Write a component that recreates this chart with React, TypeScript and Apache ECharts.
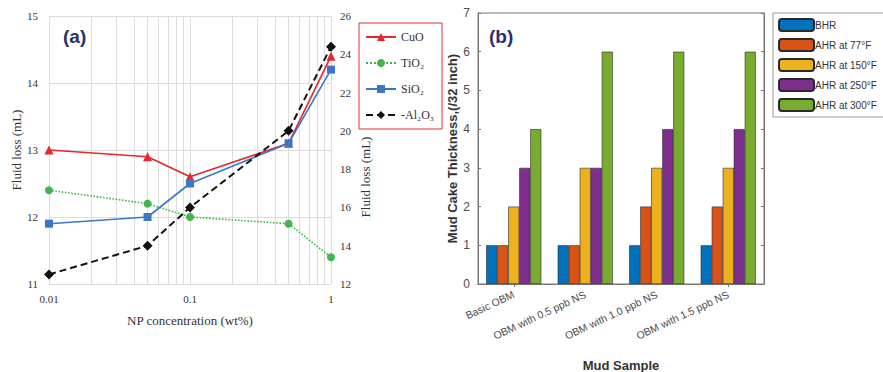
import React, { useEffect, useRef } from "react";
import * as echarts from "echarts";

// ---- Panel (a) data ----
const concentrations = [0.01, 0.05, 0.1, 0.5, 1];
const cuo = [13.0, 12.9, 12.6, 13.1, 14.4];
const tio2 = [12.4, 12.2, 12.0, 11.9, 11.4];
const sio2 = [11.9, 12.0, 12.5, 13.1, 14.2];
const al2o3 = [12.5, 14.0, 16.0, 20.0, 24.4];
const minorGridX = [0.02, 0.03, 0.04, 0.05, 0.06, 0.07, 0.08, 0.09, 0.2, 0.3, 0.4, 0.5, 0.6, 0.7, 0.8, 0.9];

// ---- Panel (b) data ----
const mudSamples = ["Basic OBM", "OBM with 0.5 ppb NS", "OBM with 1.0 ppb NS", "OBM with 1.5 ppb NS"];
const bhr = [1, 1, 1, 1];
const ahr77 = [1, 1, 2, 2];
const ahr150 = [2, 3, 3, 3];
const ahr250 = [3, 3, 4, 4];
const ahr300 = [4, 6, 6, 6];

const SERIF = "Liberation Serif";
const SANS = "Liberation Sans";

function pairs(xs: number[], ys: number[]) {
  return xs.map((x, i) => [x, ys[i]]);
}

export default function App() {
  const ref = useRef<HTMLDivElement>(null);
  useEffect(() => {
    if (!ref.current) return;
    const chart = echarts.init(ref.current, null, { renderer: "svg" });
    const serifLabel = { fontFamily: SERIF, fontSize: 11, color: "#333" };
    const sansLabel = { fontFamily: SANS, fontSize: 11, color: "#4d4d4d" };
    const barBorder = { borderColor: "#2a2a2a", borderWidth: 0.6 };
    const option: any = {
      animation: false,
      backgroundColor: "#ffffff",
      title: [
        { text: "(a)", left: 58, top: 22, textStyle: { fontFamily: SANS, fontSize: 19, fontWeight: "bold", color: "#27306b" } },
        { text: "(b)", left: 484, top: 22, textStyle: { fontFamily: SANS, fontSize: 19, fontWeight: "bold", color: "#27306b" } },
      ],
      legend: [
        {
          data: ["CuO", "TiO₂", "SiO₂", "-Al₂O₃"],
          orient: "vertical",
          left: 359,
          top: 23,
          width: 69,
          padding: [8, 8, 8, 6],
          borderColor: "#e03030",
          borderWidth: 1,
          itemWidth: 30,
          itemHeight: 10,
          itemGap: 14,
          textStyle: { fontFamily: SERIF, fontSize: 12, color: "#333" },
        },
        {
          data: ["BHR", "AHR at 77°F", "AHR at 150°F", "AHR at 250°F", "AHR at 300°F"],
          orient: "vertical",
          left: 773,
          top: 13,
          padding: [5, 10, 5, 5],
          borderColor: "#999",
          borderWidth: 1,
          itemWidth: 35,
          itemHeight: 12,
          itemGap: 6,
          textStyle: { fontFamily: SANS, fontSize: 10, color: "#333", padding: [0, 0, 0, -4] },
        },
      ],
      grid: [
        { left: 49, right: 552, top: 16, bottom: 88, outerBoundsMode: "none", containLabel: false },
        { left: 478, right: 119, top: 13, bottom: 88, outerBoundsMode: "none", containLabel: false, show: true, borderColor: "#777", borderWidth: 1, backgroundColor: "transparent" },
      ],
      xAxis: [
        {
          gridIndex: 0,
          type: "log",
          logBase: 10,
          min: 0.01,
          max: 1,
          name: "NP concentration (wt%)",
          nameLocation: "middle",
          nameGap: 30,
          nameTextStyle: { fontFamily: SERIF, fontSize: 13, color: "#333" },
          axisLine: { show: false },
          axisTick: { show: false },
          axisLabel: { ...serifLabel, margin: 9 },
          splitLine: { show: true, lineStyle: { color: "#dcdcdc", width: 1 } },
        },
        {
          gridIndex: 1,
          type: "category",
          data: mudSamples,
          name: "Mud Sample",
          nameLocation: "middle",
          nameGap: 75,
          nameTextStyle: { fontFamily: SANS, fontSize: 13, fontWeight: "bold", color: "#333" },
          axisLine: { show: true, lineStyle: { color: "#777" } },
          axisTick: { show: true, inside: true, alignWithLabel: true, length: 3, lineStyle: { color: "#777" } },
          axisLabel: { ...sansLabel, fontSize: 10.5, rotate: 25, margin: 10, interval: 0 },
        },
        {
          gridIndex: 1,
          type: "category",
          data: mudSamples,
          position: "top",
          axisLine: { show: true, lineStyle: { color: "#777" } },
          axisTick: { show: true, inside: true, alignWithLabel: true, length: 3, lineStyle: { color: "#777" } },
          axisLabel: { show: false },
        },
      ],
      yAxis: [
        {
          gridIndex: 0,
          type: "value",
          min: 11,
          max: 15,
          interval: 1,
          name: "Fluid loss (mL)",
          nameLocation: "middle",
          nameGap: 26,
          nameTextStyle: { fontFamily: SERIF, fontSize: 13, color: "#333" },
          axisLine: { show: false },
          axisTick: { show: false },
          axisLabel: { ...serifLabel, margin: 11 },
          splitLine: { show: true, lineStyle: { color: "#dcdcdc", width: 1 } },
        },
        {
          gridIndex: 0,
          type: "value",
          position: "right",
          min: 12,
          max: 26,
          interval: 2,
          name: "Fluid loss (mL)",
          nameLocation: "middle",
          nameGap: 28,
          nameTextStyle: { fontFamily: SERIF, fontSize: 13, color: "#333", padding: [0, 54, 0, 0] },
          axisLine: { show: false },
          axisTick: { show: false },
          axisLabel: { ...serifLabel, margin: 9 },
          splitLine: { show: false },
        },
        {
          gridIndex: 1,
          type: "value",
          min: 0,
          max: 7,
          interval: 1,
          name: "Mud Cake Thickness,(/32 inch)",
          nameLocation: "middle",
          nameGap: 18,
          nameTextStyle: { fontFamily: SANS, fontSize: 13, fontWeight: "bold", color: "#333" },
          axisLine: { show: true, lineStyle: { color: "#777" } },
          axisTick: { show: true, inside: true, length: 3, lineStyle: { color: "#777" } },
          axisLabel: { ...sansLabel, fontSize: 12, margin: 8 },
          splitLine: { show: false },
        },
        {
          gridIndex: 1,
          type: "value",
          position: "right",
          min: 0,
          max: 7,
          interval: 1,
          axisLine: { show: true, lineStyle: { color: "#777" } },
          axisTick: { show: true, inside: true, length: 3, lineStyle: { color: "#777" } },
          axisLabel: { show: false },
          splitLine: { show: false },
        },
      ],
      series: [
        {
          name: "CuO",
          type: "line",
          xAxisIndex: 0,
          yAxisIndex: 0,
          data: pairs(concentrations, cuo),
          symbol: "triangle",
          symbolSize: 9,
          color: "#e8262b",
          lineStyle: { width: 1.6, color: "#e8262b" },
          z: 5,
          markLine: {
            silent: true,
            symbol: "none",
            label: { show: false },
            lineStyle: { color: "#dcdcdc", width: 1, type: "solid" },
            data: minorGridX.map((v) => ({ xAxis: v })),
            z: 1,
          },
        },
        {
          name: "TiO₂",
          type: "line",
          xAxisIndex: 0,
          yAxisIndex: 0,
          data: pairs(concentrations, tio2),
          symbol: "circle",
          symbolSize: 8,
          color: "#3fb54a",
          lineStyle: { width: 1.6, type: "dotted", color: "#3fb54a" },
          z: 5,
        },
        {
          name: "SiO₂",
          type: "line",
          xAxisIndex: 0,
          yAxisIndex: 0,
          data: pairs(concentrations, sio2),
          symbol: "rect",
          symbolSize: 8,
          color: "#3a78c6",
          lineStyle: { width: 1.6, color: "#3a78c6" },
          z: 5,
        },
        {
          name: "-Al₂O₃",
          type: "line",
          xAxisIndex: 0,
          yAxisIndex: 1,
          data: pairs(concentrations, al2o3),
          symbol: "diamond",
          symbolSize: 10,
          color: "#111111",
          lineStyle: { width: 2, type: [7, 4], color: "#111111" },
          z: 5,
        },
        { name: "BHR", type: "bar", xAxisIndex: 1, yAxisIndex: 2, data: bhr, barGap: "0%", barCategoryGap: "23%", itemStyle: { color: "#0072BD", ...barBorder } },
        { name: "AHR at 77°F", type: "bar", xAxisIndex: 1, yAxisIndex: 2, data: ahr77, barGap: "0%", barCategoryGap: "23%", itemStyle: { color: "#D95319", ...barBorder } },
        { name: "AHR at 150°F", type: "bar", xAxisIndex: 1, yAxisIndex: 2, data: ahr150, barGap: "0%", barCategoryGap: "23%", itemStyle: { color: "#EDB120", ...barBorder } },
        { name: "AHR at 250°F", type: "bar", xAxisIndex: 1, yAxisIndex: 2, data: ahr250, barGap: "0%", barCategoryGap: "23%", itemStyle: { color: "#7E2F8E", ...barBorder } },
        { name: "AHR at 300°F", type: "bar", xAxisIndex: 1, yAxisIndex: 2, data: ahr300, barGap: "0%", barCategoryGap: "23%", itemStyle: { color: "#77AC30", ...barBorder } },
      ],
    };
    chart.setOption(option);
    return () => chart.dispose();
  }, []);
  return (
    <div
      ref={ref}
      style={{ position: "fixed", left: 0, top: 0, width: 883, height: 372, background: "#fff" }}
    />
  );
}
